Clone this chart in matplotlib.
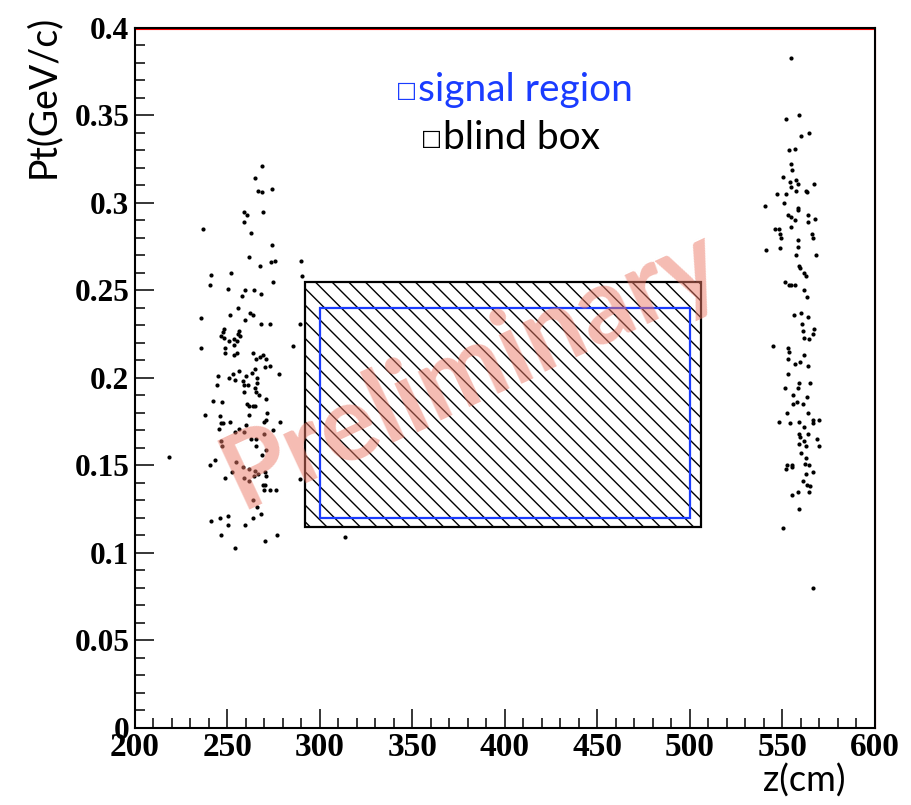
import numpy as np
import matplotlib
matplotlib.use("Agg")
import matplotlib.pyplot as plt
from matplotlib.patches import Rectangle
from matplotlib.ticker import MultipleLocator

# event candidates, left cluster (upstream)
left_z = [268.5, 264.9, 266.3, 268.8, 274.1, 259.1, 260.5, 269.4, 258.8, 236.6,
          262.7, 274.1, 261.6, 267.7, 273.5, 275.8, 289.6, 240.9, 251.9, 290.3,
          240.4, 274.4, 250.3, 259.5, 264.2, 257.7, 267.9, 255.7, 235.8, 251.4,
          262.3, 263.6, 259.3, 268.3, 272.8, 289.2, 248.1, 247.4, 246.5, 247.9,
          256.4, 255.8, 256.9, 253.5, 255.0, 251.0, 253.4, 235.5, 248.8, 285.6,
          248.8, 253.4, 255.3, 263.8, 265.6, 267.7, 269.4, 271.0, 272.8, 270.4,
          244.9, 253.0, 256.1, 250.8, 254.2, 258.4, 260.0, 263.1, 264.7, 265.8,
          277.7, 244.5, 259.1, 261.2, 265.9, 264.9, 259.1, 265.4, 267.0, 242.2,
          247.2, 270.6, 260.5, 261.5, 263.6, 264.7, 238.0, 245.9, 261.6, 271.2,
          270.6, 269.9, 278.5, 251.2, 246.5, 247.6, 245.2, 259.8, 254.2, 256.4,
          258.8, 274.4, 269.9, 246.5, 246.9, 262.8, 265.4, 265.6, 270.8, 268.6,
          218.4, 240.5, 243.2, 254.6, 258.2, 261.8, 265.0, 266.3, 252.4, 270.4,
          248.6, 258.8, 264.3, 270.6, 261.8, 269.2, 270.1, 269.9, 273.1, 276.4,
          289.2, 263.6, 265.9, 240.9, 245.8, 250.1, 250.4, 263.6, 268.1, 259.5,
          246.3, 270.1, 276.9, 254.1, 313.5]
left_pt = [0.321, 0.314, 0.307, 0.306, 0.308, 0.295, 0.293, 0.295, 0.289, 0.285,
           0.283, 0.276, 0.269, 0.264, 0.266, 0.267, 0.267, 0.259, 0.260, 0.258,
           0.253, 0.255, 0.251, 0.250, 0.250, 0.247, 0.248, 0.240, 0.234, 0.236,
           0.237, 0.236, 0.233, 0.231, 0.231, 0.231, 0.228, 0.226, 0.224, 0.223,
           0.227, 0.225, 0.224, 0.222, 0.221, 0.221, 0.219, 0.217, 0.217, 0.218,
           0.214, 0.213, 0.214, 0.214, 0.211, 0.212, 0.213, 0.211, 0.207, 0.206,
           0.201, 0.202, 0.204, 0.200, 0.199, 0.198, 0.201, 0.203, 0.205, 0.200,
           0.202, 0.196, 0.196, 0.196, 0.197, 0.194, 0.192, 0.192, 0.190, 0.187,
           0.186, 0.188, 0.185, 0.184, 0.184, 0.184, 0.179, 0.178, 0.179, 0.180,
           0.176, 0.175, 0.175, 0.175, 0.174, 0.174, 0.171, 0.173, 0.169, 0.171,
           0.169, 0.170, 0.168, 0.164, 0.161, 0.165, 0.165, 0.161, 0.159, 0.156,
           0.155, 0.150, 0.153, 0.152, 0.149, 0.148, 0.147, 0.145, 0.146, 0.146,
           0.143, 0.143, 0.144, 0.144, 0.141, 0.139, 0.139, 0.136, 0.136, 0.136,
           0.142, 0.130, 0.126, 0.118, 0.120, 0.121, 0.116, 0.120, 0.122, 0.116,
           0.110, 0.107, 0.110, 0.103, 0.109]

# event candidates, right cluster (downstream)
right_z = [554.4, 558.9, 551.7, 560.0, 564.3, 553.4, 556.8, 554.4, 555.1, 550.1,
           554.1, 557.5, 558.4, 567.0, 554.4, 557.1, 562.7, 563.4, 547.2, 552.1,
           550.6, 540.7, 558.4, 558.5, 553.1, 554.8, 563.8, 556.6, 567.6, 563.9,
           545.8, 548.3, 554.8, 548.6, 549.0, 558.4, 565.9, 566.6, 558.5, 541.2,
           548.6, 557.3, 567.9, 558.7, 559.6, 561.6, 562.9, 551.4, 553.4, 554.8,
           556.8, 561.8, 563.4, 556.2, 560.2, 563.6, 560.7, 561.2, 567.2, 566.3,
           561.6, 564.3, 545.0, 552.8, 553.5, 553.1, 561.6, 559.3, 556.9, 563.8,
           552.8, 558.8, 564.9, 558.2, 551.5, 555.8, 563.2, 555.8, 557.8, 560.9,
           552.4, 563.6, 547.9, 554.1, 558.9, 566.5, 569.9, 566.5, 561.6, 558.7,
           559.5, 563.9, 568.8, 561.8, 559.1, 562.9, 569.6, 559.8, 562.9, 562.2,
           564.5, 552.4, 555.1, 555.3, 551.7, 566.3, 562.7, 561.2, 563.2, 564.9,
           564.2, 558.2, 555.3, 559.1, 550.1, 566.6]
right_pt = [0.383, 0.350, 0.348, 0.338, 0.340, 0.330, 0.331, 0.322, 0.319, 0.315,
            0.312, 0.313, 0.311, 0.311, 0.309, 0.307, 0.307, 0.306, 0.305, 0.305,
            0.300, 0.298, 0.297, 0.296, 0.293, 0.292, 0.293, 0.290, 0.291, 0.289,
            0.285, 0.285, 0.286, 0.282, 0.280, 0.279, 0.282, 0.280, 0.275, 0.273,
            0.274, 0.270, 0.270, 0.264, 0.263, 0.260, 0.258, 0.255, 0.253, 0.253,
            0.253, 0.250, 0.246, 0.236, 0.237, 0.235, 0.231, 0.227, 0.228, 0.225,
            0.223, 0.222, 0.218, 0.217, 0.215, 0.211, 0.213, 0.209, 0.208, 0.207,
            0.202, 0.197, 0.197, 0.194, 0.194, 0.190, 0.189, 0.185, 0.186, 0.185,
            0.180, 0.180, 0.175, 0.174, 0.175, 0.176, 0.176, 0.174, 0.172, 0.168,
            0.166, 0.168, 0.165, 0.164, 0.162, 0.161, 0.161, 0.157, 0.154, 0.151,
            0.150, 0.150, 0.150, 0.149, 0.148, 0.146, 0.145, 0.141, 0.139, 0.138,
            0.135, 0.135, 0.133, 0.125, 0.114, 0.080]

# boxes: (z_min, z_max, pt_min, pt_max)
blind_box = (292, 506, 0.115, 0.255)
signal_region = (300, 500, 0.12, 0.24)

blue = "#1a3cff"
gill = ["Lato", "DejaVu Sans"]

fig = plt.figure(figsize=(9.12, 8.05), dpi=100)
ax = fig.add_axes([0.148, 0.0957, 0.8114, 0.8696])

ax.scatter(left_z, left_pt, s=9, color="black", linewidths=0, zorder=3)
ax.scatter(right_z, right_pt, s=9, color="black", linewidths=0, zorder=3)

b0, b1, p0, p1 = blind_box
ax.add_patch(Rectangle((b0, p0), b1 - b0, p1 - p0, facecolor="none",
                       edgecolor="black", hatch="\\\\", lw=1.6, zorder=2))
s0, s1, q0, q1 = signal_region
ax.add_patch(Rectangle((s0, q0), s1 - s0, q1 - q0, facecolor="none",
                       edgecolor=blue, lw=1.6, zorder=2.5))

# watermark
ax.text(382, 0.205, "Preliminary", rotation=25, rotation_mode="anchor",
        ha="center", va="center", fontsize=76, family=gill, fontweight="bold",
        color="#ec7a68", alpha=0.5, zorder=5)

# legend-like labels: small open square followed by the text
ax.text(353, 0.3646, "signal region", ha="left", va="center",
        fontsize=28, family=gill, color=blue)
ax.text(352.5, 0.3640, "\u25a1", ha="right", va="center",
        fontsize=16, family="DejaVu Sans", color=blue)
ax.text(366.5, 0.337, "blind box", ha="left", va="center",
        fontsize=28, family=gill, color="black")
ax.text(366, 0.3364, "\u25a1", ha="right", va="center",
        fontsize=16, family="DejaVu Sans", color="black")

ax.set_xlim(200, 600)
ax.set_ylim(0, 0.4)
ax.xaxis.set_major_locator(MultipleLocator(50))
ax.xaxis.set_minor_locator(MultipleLocator(10))
ax.yaxis.set_major_locator(MultipleLocator(0.05))
ax.yaxis.set_minor_locator(MultipleLocator(0.01))
ax.yaxis.set_major_formatter(plt.FuncFormatter(lambda v, p: f"{v:g}"))

ax.tick_params(which="both", direction="in", top=False, right=False, width=1.1)
ax.tick_params(which="major", length=14)
ax.tick_params(which="minor", length=7)
ax.tick_params(axis="y", pad=4)
ax.tick_params(axis="x", pad=3)
for lab in ax.get_yticklabels():
    lab.set_fontfamily("Liberation Serif")
    lab.set_fontweight("bold")
    lab.set_fontsize(22.5)
for lab in ax.get_xticklabels():
    lab.set_fontfamily("Liberation Serif")
    lab.set_fontweight("bold")
    lab.set_fontsize(24)

for sp in ax.spines.values():
    sp.set_linewidth(1.5)
    sp.set_color("black")
ax.plot([0, 1, 1], [0.998, 0.998, 0], transform=ax.transAxes, color="red",
        lw=0.8, clip_on=False, zorder=1)

ax.set_ylabel("Pt(GeV/c)", loc="top", fontsize=27, family=gill)
ax.yaxis.set_label_coords(-0.10, 1.019)
ax.set_xlabel("z(cm)", loc="right", fontsize=26, family=gill)
ax.xaxis.set_label_coords(0.96, -0.051)
ax.xaxis.label.set_va("top")

fig.savefig("out.png", dpi=100)
